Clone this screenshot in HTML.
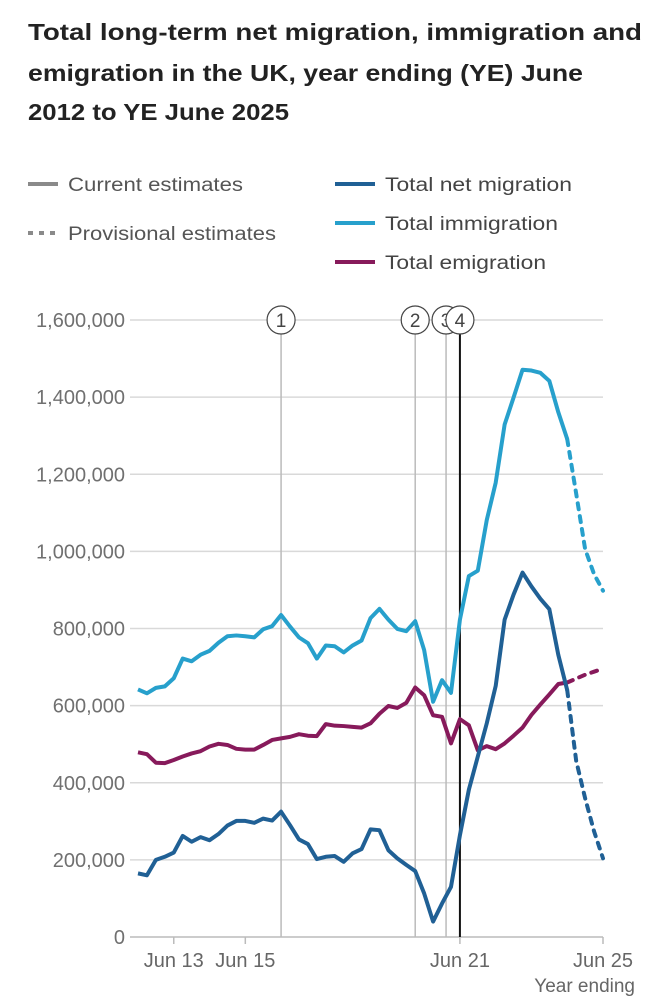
<!DOCTYPE html>
<html><head><meta charset="utf-8">
<style>
body{margin:0;background:#fff;width:670px;height:1000px;overflow:hidden;font-family:"Liberation Sans",sans-serif;}
</style></head><body>
<svg id="chart" width="670" height="1000" style="position:absolute;left:0;top:0" xmlns="http://www.w3.org/2000/svg" font-family="Liberation Sans, sans-serif">
<g font-size="23" font-weight="bold" fill="#222">
<text x="28" y="40" textLength="614" lengthAdjust="spacingAndGlyphs">Total long-term net migration, immigration and</text>
<text x="28" y="81" textLength="555" lengthAdjust="spacingAndGlyphs">emigration in the UK, year ending (YE) June</text>
<text x="28" y="120" textLength="261" lengthAdjust="spacingAndGlyphs">2012 to YE June 2025</text>
</g>
<g>
<g><line x1="28" y1="184" x2="58" y2="184" stroke="#8a8a8a" stroke-width="4"/><text x="68" y="191" font-size="19" fill="#555" textLength="175" lengthAdjust="spacingAndGlyphs">Current estimates</text></g>
<g><line x1="28" y1="233" x2="58" y2="233" stroke="#8a8a8a" stroke-width="4" stroke-dasharray="5,6"/><text x="68" y="240" font-size="19" fill="#555" textLength="208" lengthAdjust="spacingAndGlyphs">Provisional estimates</text></g>
<g><line x1="335" y1="184" x2="375" y2="184" stroke="#206095" stroke-width="4"/><text x="385" y="191" font-size="19" fill="#444" textLength="187" lengthAdjust="spacingAndGlyphs">Total net migration</text></g>
<g><line x1="335" y1="223" x2="375" y2="223" stroke="#27a0cc" stroke-width="4"/><text x="385" y="230" font-size="19" fill="#444" textLength="173" lengthAdjust="spacingAndGlyphs">Total immigration</text></g>
<g><line x1="335" y1="262" x2="375" y2="262" stroke="#871a5b" stroke-width="4"/><text x="385" y="269" font-size="19" fill="#444" textLength="161" lengthAdjust="spacingAndGlyphs">Total emigration</text></g>
</g>
<g id="grid"></g><g id="marks"></g><g id="series"></g><g id="xaxis"></g>
<text x="635" y="992" font-size="19" fill="#666" text-anchor="end">Year ending</text>
</svg>
<script>
const immigration=[642,632,646,650,671,722,715,732,742,763,780,782,780,777,798,806,835,805,777,762,722,756,754,738,756,769,827,851,823,799,793,819,744,610,666,633,823,936,950,1081,1178,1329,1399,1471,1469,1463,1442,1361,1291,1150,1006,941,898];
const netMigration=[165,160,200,208,219,262,247,259,251,267,289,301,301,296,307,302,325,290,253,241,202,208,210,195,217,228,279,277,225,204,187,171,113,40,87,130,264,382,468,554,651,823,888,945,909,877,850,732,640,457,360,274,204];
const emigration=[479,474,452,451,459,468,476,482,494,501,498,488,486,486,498,511,515,519,526,522,521,552,548,547,545,543,554,579,599,594,607,647,627,575,571,502,565,549,484,495,487,502,522,543,576,603,629,656,660,670,680,688,696];
const yTicks=[0,200000,400000,600000,800000,1000000,1200000,1400000,1600000];
const yTickLabels=["0","200,000","400,000","600,000","800,000","1,000,000","1,200,000","1,400,000","1,600,000"];
const xTickIdx=[4,12,36,52];
const xTickLabels=["Jun 13","Jun 15","Jun 21","Jun 25"];
const markerIdx=[16,31,34.45,36];
const markerLabels=["1","2","3","4"];
const provisionalStart=48;
const NS="http://www.w3.org/2000/svg";
const X=i=>138+i*(603-138)/52;
const Y=v=>937-v/1600000*617;
function mk(t,a,p){const e=document.createElementNS(NS,t);for(const k in a)e.setAttribute(k,a[k]);p.appendChild(e);return e;}
const grid=document.getElementById('grid');
yTicks.forEach((v,k)=>{
 const l=mk('line',{x1:130,x2:603,y1:Y(v),y2:Y(v),stroke:v===0?'#bbb':'#d9d9d9','stroke-width':1.5},grid);
 
 
 const t=mk('text',{x:125,y:Y(v)+7,'font-size':20,fill:'#707070','text-anchor':'end'},grid);
 t.textContent=yTickLabels[k];
 
 
});
const xa=document.getElementById('xaxis');
xTickIdx.forEach((i,k)=>{
 const l=mk('line',{x1:X(i),x2:X(i),y1:937,y2:944,stroke:'#bbb','stroke-width':1.5},xa);
 
 
 const t=mk('text',{x:X(i),y:967,'font-size':20,fill:'#666','text-anchor':'middle'},xa);
 t.textContent=xTickLabels[k];
 
 
});
const mg=document.getElementById('marks');
markerIdx.forEach((i,k)=>{
 const g=mk('g',{},mg);
 
 
 mk('line',{x1:X(i),x2:X(i),y1:320,y2:937,stroke:k===3?'#111':'#bbb','stroke-width':k===3?2:1.5},g);
 mk('circle',{cx:X(i),cy:320,r:14,fill:'#fff',stroke:'#444','stroke-width':1.2},g);
 const t=mk('text',{x:X(i),y:327,'font-size':19,fill:'#444','text-anchor':'middle'},g);
 t.textContent=markerLabels[k];
});
const sg=document.getElementById('series');
function draw(arr,color,name){
 const s=arr.slice(0,provisionalStart+1).map((v,i)=>X(i)+','+Y(v*1000)).join(' ');
 const d=arr.slice(provisionalStart).map((v,i)=>X(i+provisionalStart)+','+Y(v*1000)).join(' ');
 const a=mk('polyline',{points:s,fill:'none',stroke:color,'stroke-width':4,'stroke-linejoin':'round'},sg);
 
 
 const b=mk('polyline',{points:d,fill:'none',stroke:color,'stroke-width':4,'stroke-dasharray':'6,7','stroke-linecap':'round'},sg);
 
 
}
draw(emigration,'#871a5b','emigration');
draw(immigration,'#27a0cc','immigration');
draw(netMigration,'#206095','net-migration');
</script>
</body></html>
